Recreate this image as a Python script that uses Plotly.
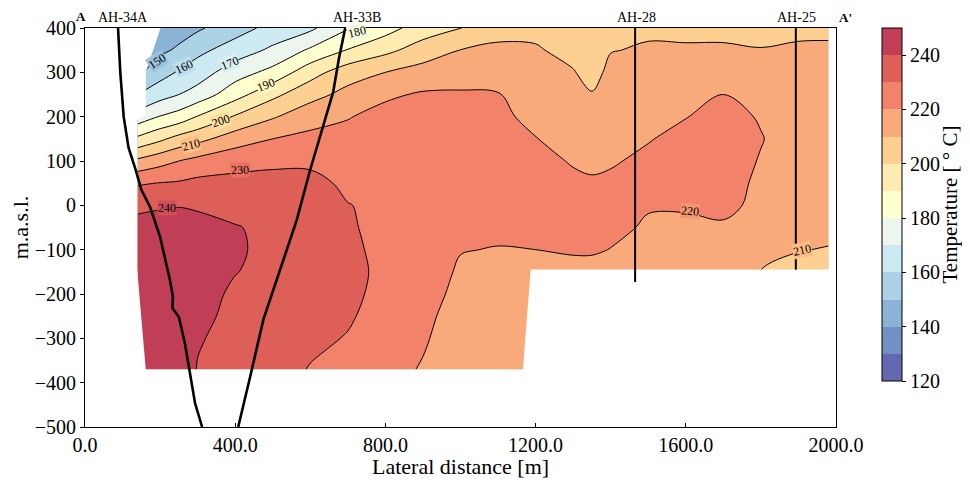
import plotly.graph_objects as go

# ---------------- data ----------------
x_dist = [140, 200, 250, 300, 400, 500, 600, 700, 800, 900, 1000, 1100, 1200,
          1300, 1350, 1400, 1500, 1600, 1700, 1800, 1900, 1980]
elev = [-370, -300, -250, -200, -150, -100, -50, 0, 50, 100, 150, 200, 250, 300, 350, 400]

# temperature profiles (deg C), one per lateral position, bottom -> top
t_140 = [245, 245, 245.5, 246, 246, 245.5, 243, 238, 229, 212, 192, 174, 160, 148, 142, 141]
t_200 = [246, 246.5, 247, 247, 247, 246.5, 244, 239, 230.3, 216.5, 198, 180.5, 166, 156, 148, 143]
t_250 = [246.5, 247, 247.5, 247.5, 247.5, 247, 245, 239.5, 231, 220, 203.5, 184, 170, 161, 151.5, 146]
t_300 = [239.5, 240.8, 242.5, 243.5, 245, 245.5, 244, 238.5, 232.5, 223, 207, 190.5, 174, 165, 157.5, 148.5]
t_400 = [235.5, 237, 237.5, 238.5, 240.3, 241, 240.5, 237, 232.5, 227, 215, 201, 186, 175.5, 164.5, 156]
t_500 = [234, 235, 236, 237, 237.5, 238, 238, 237, 234, 227.5, 220, 209, 197.5, 183, 172, 163]
t_600 = [229.5, 232, 233, 234, 235, 235.5, 235.5, 235, 233, 228, 222.5, 216, 206.5, 196, 181.5, 168]
t_700 = [226, 229.5, 231, 232, 232.5, 232, 231, 230.3, 228, 226, 223, 219.5, 213, 205.5, 190.5, 179.5]
t_800 = [223, 225, 226.5, 227.5, 228, 227.5, 227.5, 228, 227, 226, 225, 223, 218.5, 210, 197.5, 186]
t_900 = [219.3, 221, 222, 223, 224, 224.5, 225, 225, 225, 225, 224.5, 223.5, 221, 214, 204.5, 195]
t_1000 = [214, 215.5, 216.5, 218, 219, 220.3, 222, 223, 223.5, 224, 224, 223.5, 221, 216, 210.2, 199.8]
t_1100 = [213, 214, 215, 216.5, 218, 219.7, 221.5, 222.5, 223, 223.5, 223.5, 222.5, 220.5, 216, 212, 206.5]
t_1200 = [213, 213.5, 214, 215, 217, 220, 221.5, 222.5, 222.5, 221.5, 220.3, 217, 215, 213.5, 211, 207.5]
t_1300 = [213, 213, 213, 213, 217, 221, 222, 222, 221, 219.6, 217, 215, 213, 210.6, 207, 205]
t_1350 = [213, 213, 213, 213, 217, 221, 222, 221.5, 220.6, 219, 216, 213, 210.6, 206.5, 204.5, 203]
t_1400 = [213, 213, 213, 213, 217, 219.8, 222, 222.5, 221.3, 219.3, 217, 215.5, 214, 212.5, 209.6, 207]
t_1500 = [213, 213, 213, 213, 217, 217.5, 219, 220.6, 221.8, 221.5, 219.6, 217, 215, 213, 211, 208.5]
t_1600 = [213, 213, 213, 213, 217, 217.5, 218.8, 220.6, 222, 222.5, 222, 219.8, 216.5, 214, 211, 208]
t_1700 = [213, 213, 213, 213, 216.5, 217.5, 219.2, 221.5, 222.5, 223, 223, 222, 220, 216, 211.3, 207.5]
t_1800 = [210, 210, 210, 210, 209.8, 212, 215, 218.5, 218.8, 219.6, 220.3, 219.5, 217.5, 214.5, 210.4, 207]
t_1900 = [207.5, 207.5, 207.5, 207.5, 207.5, 210.3, 212.5, 214.5, 216, 217, 217, 216.5, 215, 213, 211, 208.5]
t_1980 = [207, 207, 207, 207, 207, 209.6, 212, 214, 215, 216, 216, 215.5, 214.5, 213, 211, 208.7]

profiles = [t_140, t_200, t_250, t_300, t_400, t_500, t_600, t_700, t_800, t_900, t_1000,
            t_1100, t_1200, t_1300, t_1350, t_1400, t_1500, t_1600, t_1700, t_1800, t_1900, t_1980]

# areas without data (left blank in the section)
nodata_top_x = [130, 202, 162, 162, 130]
nodata_top_y = [402, 402, 301, 205, 188]
nodata_left_x = [130, 139, 162, 130]
nodata_left_y = [-145, -145, -372, -372]
nodata_right_x = [1187, 1166, 1990, 1990]
nodata_right_y = [-145, -372, -372, -145]

# wells
well_34a_x = [88, 94, 103, 116, 135, 150, 173, 200, 226, 234, 233, 250, 266, 280, 293, 312]
well_34a_y = [400, 300, 200, 130, 80, 35, -3, -71, -168, -205, -232, -252, -311, -380, -446, -500]
well_33b_x = [693, 676, 661, 635, 599, 564, 511, 475, 440, 408]
well_33b_y = [400, 330, 256, 181, 78, -33, -168, -258, -386, -500]
well_28_x = [1465, 1465]
well_28_y = [400, -173]
well_25_x = [1893, 1893]
well_25_y = [400, -145]
well_names = ["AH-34A", "AH-33B", "AH-28", "AH-25"]
well_label_x = [101, 725, 1470, 1896]

# contour labels: (text, x, y, angle)
contour_labels = [
    ("150", 193, 326, -33), ("160", 263, 312, -25), ("170", 387, 320, -22),
    ("180", 724, 391, -14), ("190", 481, 271, -22), ("200", 361, 190, -18),
    ("210", 281, 137, -14), ("230", 413, 80, -2), ("240", 218, -7, 0),
    ("220", 1612, -13, 5), ("210", 1910, -100, -13),
]

levels = list(range(120, 260, 10))
band_colors = ["#6468b0", "#7190c3", "#8bb3d5", "#abd2e5", "#cde9f2", "#ecf6ee", "#ffffcf",
               "#feebb0", "#fdd091", "#f9aa7a", "#f2836a", "#de5e58", "#c03e56"]
cbar_ticks = [120, 140, 160, 180, 200, 220, 240]

# ---------------- figure ----------------
FONT = "Liberation Serif"
temperature = [[prof[i] for prof in profiles] for i in range(len(elev))]
nb = len(band_colors)
fill_scale = [[k / (nb - 1), c] for k, c in enumerate(band_colors)]
bar_scale = []
for k, c in enumerate(band_colors):
    bar_scale.append([k / nb, c])
    bar_scale.append([(k + 1) / nb, c])


def blend(c1, c2):
    a = [int(c1[i:i + 2], 16) for i in (1, 3, 5)]
    b = [int(c2[i:i + 2], 16) for i in (1, 3, 5)]
    return "#" + "".join("%02x" % ((p + q) // 2) for p, q in zip(a, b))


fig = go.Figure()
fig.add_trace(go.Contour(
    x=x_dist, y=elev, z=temperature,
    colorscale=fill_scale, showscale=False,
    contours=dict(start=levels[1], end=levels[-2], size=10, coloring="fill", showlabels=False),
    line=dict(color="black", width=1, smoothing=1),
    hoverinfo="skip",
))
for mx, my in [(nodata_top_x, nodata_top_y), (nodata_left_x, nodata_left_y),
               (nodata_right_x, nodata_right_y)]:
    fig.add_trace(go.Scatter(x=mx, y=my, fill="toself", fillcolor="white", mode="lines",
                             line=dict(width=0, color="white"), hoverinfo="skip", showlegend=False))
for wx, wy, w in [(well_34a_x, well_34a_y, 2.6), (well_33b_x, well_33b_y, 2.6),
                  (well_28_x, well_28_y, 2), (well_25_x, well_25_y, 2)]:
    fig.add_trace(go.Scatter(x=wx, y=wy, mode="lines", line=dict(color="black", width=w),
                             hoverinfo="skip", showlegend=False))
# colour bar
fig.add_trace(go.Scatter(
    x=[-1000], y=[-1000], mode="markers", showlegend=False, hoverinfo="skip",
    marker=dict(color=[levels[0]], cmin=levels[0], cmax=levels[-1], colorscale=bar_scale,
                showscale=True,
                colorbar=dict(thickness=20, len=0.885, lenmode="fraction", y=1, yanchor="top",
                              x=1.061, xanchor="left", xpad=0, ypad=0,
                              outlinewidth=1, outlinecolor="black",
                              tickvals=cbar_ticks, ticks="outside", ticklen=4, tickcolor="black",
                              tickfont=dict(family=FONT, size=20, color="black")))))

annotations = []
for txt, lx, ly, ang in contour_labels:
    i = levels.index(int(txt))
    bg = blend(band_colors[i - 1], band_colors[i])
    annotations.append(dict(x=lx, y=ly, xref="x", yref="y", text=txt, showarrow=False,
                            textangle=ang, bgcolor=bg, borderpad=0,
                            font=dict(family=FONT, size=12, color="black")))
for name, lx in zip(well_names, well_label_x):
    annotations.append(dict(x=lx, y=1, xref="x", yref="paper", text=name, showarrow=False,
                            yanchor="bottom", yshift=1,
                            font=dict(family=FONT, size=14, color="black")))
annotations.append(dict(x=-0.005, y=1, xref="paper", yref="paper", text="<b>A</b>", showarrow=False,
                        yanchor="bottom", xanchor="center", yshift=2,
                        font=dict(family=FONT, size=13, color="black")))
annotations.append(dict(x=1.012, y=1, xref="paper", yref="paper", text="<b>A'</b>", showarrow=False,
                        yanchor="bottom", xanchor="center", yshift=1,
                        font=dict(family=FONT, size=13, color="black")))
# axis title below the x axis and colour-bar title
annotations.append(dict(x=0.5, y=0, xref="paper", yref="paper", text="Lateral distance [m]",
                        showarrow=False, yanchor="middle", xanchor="center", yshift=-39,
                        font=dict(family=FONT, size=22, color="black")))
annotations.append(dict(x=1.152, y=0.558, xref="paper", yref="paper", text="Temperature [ ° C]",
                        showarrow=False, yanchor="middle", xanchor="center", textangle=-90,
                        font=dict(family=FONT, size=21, color="black")))

# the page places the figure 8 px from the top-left corner of the window
fig.update_layout(
    width=954, height=471,
    margin=dict(l=77, r=126, t=20, b=52, autoexpand=False),
    paper_bgcolor="white", plot_bgcolor="white",
    font=dict(family=FONT, color="black"),
    showlegend=False,
    annotations=annotations,
    xaxis=dict(range=[0, 2000], tickvals=[0, 400, 800, 1200, 1600, 2000], tickformat=".1f",
               showgrid=False, zeroline=False, showline=True, mirror=True, linecolor="black",
               linewidth=1, ticks="inside", ticklen=4, tickcolor="black", automargin=False,
               tickfont=dict(family=FONT, size=20)),
    yaxis=dict(range=[-500, 400], tickvals=list(range(-500, 500, 100)),
               showgrid=False, zeroline=False, showline=True, mirror=True, linecolor="black",
               linewidth=1, ticks="outside", ticklen=4, tickcolor="black", automargin=False,
               tickfont=dict(family=FONT, size=20),
               title=dict(text="m.a.s.l.", font=dict(family=FONT, size=22), standoff=6)),
)

fig.write_html("out.html")
